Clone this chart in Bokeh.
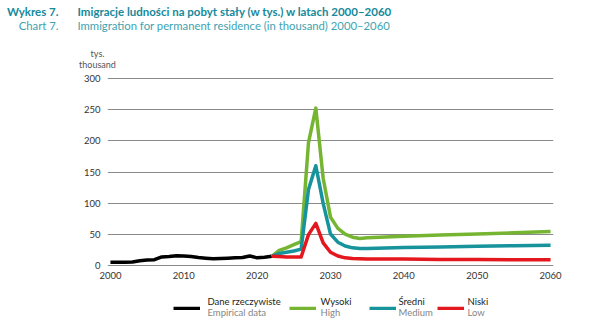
from bokeh.plotting import figure
from bokeh.models import Range1d, Label, Legend, LegendItem
from bokeh.layouts import column
from bokeh.embed import file_html
from bokeh.resources import INLINE

# ---- data ----
years_emp = list(range(2000, 2023))
empirical = [6, 6, 6, 6.5, 8.5, 9.5, 10, 14.5, 15, 16.5, 16, 15, 13.5, 12.5, 11.5,
             12, 12.5, 13, 13.5, 16, 13, 14, 15.5]

years_proj = [2022, 2023, 2024, 2025, 2026, 2027, 2028, 2029, 2030, 2031, 2032,
              2033, 2034, 2035, 2040, 2045, 2050, 2055, 2060]
high = [15.5, 25, 29, 34, 39, 197, 252, 140, 78, 60, 51, 46, 44, 45, 47.5, 49.5, 51, 53, 55]
medium = [15.5, 20, 22, 24, 27, 122, 160, 100, 51, 38, 32, 29, 28, 28, 29.5, 30.5, 31.5, 32.5, 33]
low = [15.5, 15, 14.5, 14.5, 14.5, 50, 68, 37, 22, 16, 13, 12, 11.5, 11, 11, 10.5, 10.5, 10, 10]

x_ticks = [2000, 2010, 2020, 2030, 2040, 2050, 2060]
y_ticks = [0, 50, 100, 150, 200, 250, 300]

series_pl = ["Dane rzeczywiste", "Wysoki", "Średni", "Niski"]
series_en = ["Empirical data", "High", "Medium", "Low"]
colors = ["#000000", "#76b531", "#16939b", "#e3171d"]
series_x = [years_emp, years_proj, years_proj, years_proj]
series_y = [empirical, high, medium, low]

FONT = "Lato"
TEAL = "#16899a"
TEAL_LIGHT = "#3ea3b1"
LW = 3.5
W = 589
H_TOP, H_MAIN, H_LEG = 70, 215, 40


def blank(h):
    f = figure(width=W, height=h, output_backend="svg", toolbar_location=None,
               x_range=Range1d(0, W), y_range=Range1d(h, 0),
               x_axis_type=None, y_axis_type=None, frame_align=False,
               min_border_left=0, min_border_right=0, min_border_top=0, min_border_bottom=0)
    f.outline_line_color = None
    f.xgrid.visible = False
    f.ygrid.visible = False
    f.background_fill_color = "white"
    f.border_fill_color = "white"
    return f


def lab(f, px, py, text, color, size, align="left", bold=False):
    f.add_layout(Label(x=px, y=py, text=text, text_color=color,
                       text_font=FONT, text_font_size=size, text_align=align,
                       text_baseline="middle",
                       text_font_style="bold" if bold else "normal"))


# ---- title strip ----
pt = blank(H_TOP)
lab(pt, 58, 11, "Wykres 7.", TEAL, "11.5px", align="right", bold=True)
lab(pt, 77, 11, "Imigracje ludności na pobyt stały (w tys.) w latach 2000–2060", TEAL, "11.5px", bold=True)
lab(pt, 58, 25, "Chart 7.", TEAL_LIGHT, "11.3px", align="right")
lab(pt, 77, 25, "Immigration for permanent residence (in thousand) 2000–2060", TEAL_LIGHT, "11.3px")
lab(pt, 97, 53, "tys.", "#555555", "9px", align="center")
lab(pt, 97, 64, "thousand", "#555555", "9px", align="center")

# ---- main chart ----
p = figure(width=W, height=H_MAIN, output_backend="svg", toolbar_location=None,
           x_range=Range1d(1999.6, 2060.4), y_range=Range1d(-4, 312), frame_align=False,
           min_border_left=107, min_border_right=36, min_border_top=0, min_border_bottom=17)
p.outline_line_color = None
p.background_fill_color = "white"
p.border_fill_color = "white"

for ax in (p.xaxis[0], p.yaxis[0]):
    ax.axis_line_color = None
    ax.major_tick_line_color = None
    ax.minor_tick_line_color = None
    ax.major_tick_out = 0
    ax.major_tick_in = 0
    ax.major_label_text_font = FONT
    ax.major_label_text_font_size = "9.5px"
    ax.major_label_text_color = "#333333"
p.xaxis.ticker = x_ticks
p.yaxis.ticker = y_ticks
p.xaxis.major_label_standoff = 3
p.yaxis.major_label_standoff = 7

p.xgrid.grid_line_color = None
p.ygrid.ticker = y_ticks
p.ygrid.grid_line_color = "#8a8a8a"
p.ygrid.grid_line_width = 1

for xs, ys, c in zip(series_x, series_y, colors):
    p.line(xs, ys, line_color=c, line_width=LW, line_join="round")

# ---- legend strip (swatches come from Bokeh legends; the proxy lines lie outside the view) ----
pl = blank(H_LEG)
sw_left = [173, 289, 369, 437]
txt_left = [207, 320, 398, 467]
for xs, ys, c, sl, tl, tpl, ten in zip(series_x, series_y, colors, sw_left, txt_left,
                                       series_pl, series_en):
    r = pl.line(xs, ys, line_color=c, line_width=LW)
    lg = Legend(items=[LegendItem(label=" ", renderers=[r])],
                location=(sl, H_LEG - (309.7 - 285)),
                orientation="horizontal", glyph_width=27, glyph_height=4,
                label_width=0, label_height=4, label_standoff=0,
                padding=0, margin=0, spacing=0,
                border_line_color=None, background_fill_alpha=0,
                label_text_font_size="1px")
    pl.add_layout(lg, "center")
    lab(pl, tl, 301 - 285, tpl, "#231f20", "9.5px")
    lab(pl, tl, 312 - 285, ten, "#858585", "9.5px")

layout = column(pt, p, pl, spacing=0)
open("out.html", "w").write(file_html(layout, INLINE))
